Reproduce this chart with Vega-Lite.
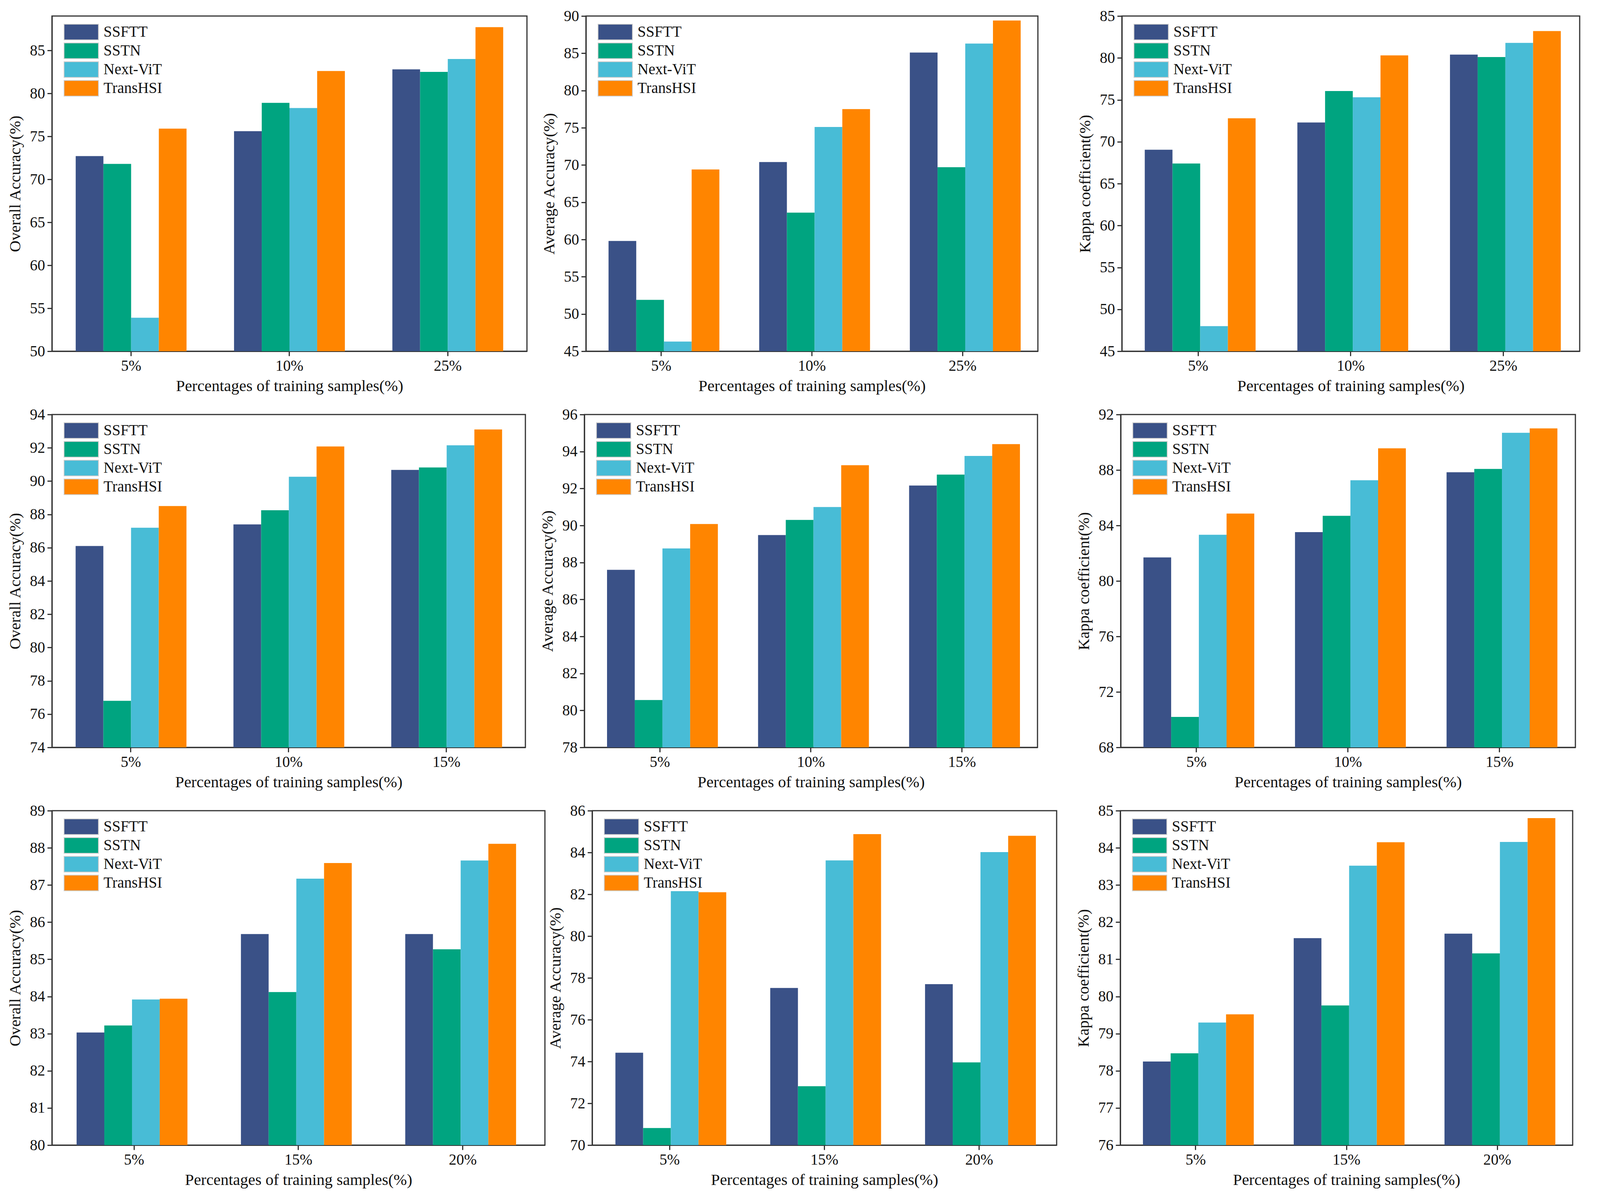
{
  "$schema": "https://vega.github.io/schema/vega-lite/v6.json",
  "background": "white",
  "padding": {"left": 16, "top": 20, "right": 5, "bottom": 5},
  "config": {
    "font": "Liberation Serif",
    "view": {"stroke": "#333333", "strokeWidth": 3},
    "axis": {
      "labelFont": "Liberation Serif", "labelFontSize": 39, "labelColor": "#111111",
      "titleFont": "Liberation Serif", "titleFontSize": 41, "titleFontWeight": "normal", "titleColor": "#111111",
      "domainColor": "#333333", "domainWidth": 3, "tickColor": "#333333", "tickWidth": 3, "tickSize": 12,
      "grid": false, "labelPadding": 6
    },
    "axisX": {"titlePadding": 12, "labelAngle": 0},
    "axisY": {"titlePadding": 16},
    "legend": {
      "orient": "none", "legendX": 30, "legendY": 19, "title": null,
      "labelFont": "Liberation Serif", "labelFontSize": 39, "labelColor": "#111111", "labelOffset": 58,
      "symbolType": "M-1,-0.95H3.19V0.95H-1Z", "symbolSize": 1764, "symbolStrokeColor": "#cccccc", "symbolStrokeWidth": 2,
      "symbolOpacity": 1, "rowPadding": 0
    }
  },
  "datasets": {
    "d": [
      {"p": "p1", "x": "5%", "m": "SSFTT", "v": 72.7}, {"p": "p1", "x": "5%", "m": "SSTN", "v": 71.8}, {"p": "p1", "x": "5%", "m": "Next-ViT", "v": 53.9}, {"p": "p1", "x": "5%", "m": "TransHSI", "v": 75.9},
      {"p": "p1", "x": "10%", "m": "SSFTT", "v": 75.6}, {"p": "p1", "x": "10%", "m": "SSTN", "v": 78.9}, {"p": "p1", "x": "10%", "m": "Next-ViT", "v": 78.3}, {"p": "p1", "x": "10%", "m": "TransHSI", "v": 82.6},
      {"p": "p1", "x": "25%", "m": "SSFTT", "v": 82.8}, {"p": "p1", "x": "25%", "m": "SSTN", "v": 82.5}, {"p": "p1", "x": "25%", "m": "Next-ViT", "v": 84.0}, {"p": "p1", "x": "25%", "m": "TransHSI", "v": 87.7},
      {"p": "p2", "x": "5%", "m": "SSFTT", "v": 59.8}, {"p": "p2", "x": "5%", "m": "SSTN", "v": 51.9}, {"p": "p2", "x": "5%", "m": "Next-ViT", "v": 46.3}, {"p": "p2", "x": "5%", "m": "TransHSI", "v": 69.4},
      {"p": "p2", "x": "10%", "m": "SSFTT", "v": 70.4}, {"p": "p2", "x": "10%", "m": "SSTN", "v": 63.6}, {"p": "p2", "x": "10%", "m": "Next-ViT", "v": 75.1}, {"p": "p2", "x": "10%", "m": "TransHSI", "v": 77.5},
      {"p": "p2", "x": "25%", "m": "SSFTT", "v": 85.1}, {"p": "p2", "x": "25%", "m": "SSTN", "v": 69.7}, {"p": "p2", "x": "25%", "m": "Next-ViT", "v": 86.3}, {"p": "p2", "x": "25%", "m": "TransHSI", "v": 89.4},
      {"p": "p3", "x": "5%", "m": "SSFTT", "v": 69.05}, {"p": "p3", "x": "5%", "m": "SSTN", "v": 67.4}, {"p": "p3", "x": "5%", "m": "Next-ViT", "v": 48.0}, {"p": "p3", "x": "5%", "m": "TransHSI", "v": 72.8},
      {"p": "p3", "x": "10%", "m": "SSFTT", "v": 72.3}, {"p": "p3", "x": "10%", "m": "SSTN", "v": 76.05}, {"p": "p3", "x": "10%", "m": "Next-ViT", "v": 75.3}, {"p": "p3", "x": "10%", "m": "TransHSI", "v": 80.3},
      {"p": "p3", "x": "25%", "m": "SSFTT", "v": 80.4}, {"p": "p3", "x": "25%", "m": "SSTN", "v": 80.1}, {"p": "p3", "x": "25%", "m": "Next-ViT", "v": 81.8}, {"p": "p3", "x": "25%", "m": "TransHSI", "v": 83.2},
      {"p": "p4", "x": "5%", "m": "SSFTT", "v": 86.1}, {"p": "p4", "x": "5%", "m": "SSTN", "v": 76.8}, {"p": "p4", "x": "5%", "m": "Next-ViT", "v": 87.2}, {"p": "p4", "x": "5%", "m": "TransHSI", "v": 88.5},
      {"p": "p4", "x": "10%", "m": "SSFTT", "v": 87.4}, {"p": "p4", "x": "10%", "m": "SSTN", "v": 88.25}, {"p": "p4", "x": "10%", "m": "Next-ViT", "v": 90.26}, {"p": "p4", "x": "10%", "m": "TransHSI", "v": 92.08},
      {"p": "p4", "x": "15%", "m": "SSFTT", "v": 90.67}, {"p": "p4", "x": "15%", "m": "SSTN", "v": 90.82}, {"p": "p4", "x": "15%", "m": "Next-ViT", "v": 92.15}, {"p": "p4", "x": "15%", "m": "TransHSI", "v": 93.1},
      {"p": "p5", "x": "5%", "m": "SSFTT", "v": 87.6}, {"p": "p5", "x": "5%", "m": "SSTN", "v": 80.56}, {"p": "p5", "x": "5%", "m": "Next-ViT", "v": 88.76}, {"p": "p5", "x": "5%", "m": "TransHSI", "v": 90.08},
      {"p": "p5", "x": "10%", "m": "SSFTT", "v": 89.48}, {"p": "p5", "x": "10%", "m": "SSTN", "v": 90.3}, {"p": "p5", "x": "10%", "m": "Next-ViT", "v": 91.0}, {"p": "p5", "x": "10%", "m": "TransHSI", "v": 93.26},
      {"p": "p5", "x": "15%", "m": "SSFTT", "v": 92.16}, {"p": "p5", "x": "15%", "m": "SSTN", "v": 92.75}, {"p": "p5", "x": "15%", "m": "Next-ViT", "v": 93.76}, {"p": "p5", "x": "15%", "m": "TransHSI", "v": 94.4},
      {"p": "p6", "x": "5%", "m": "SSFTT", "v": 81.7}, {"p": "p6", "x": "5%", "m": "SSTN", "v": 70.2}, {"p": "p6", "x": "5%", "m": "Next-ViT", "v": 83.33}, {"p": "p6", "x": "5%", "m": "TransHSI", "v": 84.86},
      {"p": "p6", "x": "10%", "m": "SSFTT", "v": 83.52}, {"p": "p6", "x": "10%", "m": "SSTN", "v": 84.7}, {"p": "p6", "x": "10%", "m": "Next-ViT", "v": 87.26}, {"p": "p6", "x": "10%", "m": "TransHSI", "v": 89.56},
      {"p": "p6", "x": "15%", "m": "SSFTT", "v": 87.84}, {"p": "p6", "x": "15%", "m": "SSTN", "v": 88.08}, {"p": "p6", "x": "15%", "m": "Next-ViT", "v": 90.68}, {"p": "p6", "x": "15%", "m": "TransHSI", "v": 91.0},
      {"p": "p7", "x": "5%", "m": "SSFTT", "v": 83.03}, {"p": "p7", "x": "5%", "m": "SSTN", "v": 83.22}, {"p": "p7", "x": "5%", "m": "Next-ViT", "v": 83.92}, {"p": "p7", "x": "5%", "m": "TransHSI", "v": 83.94},
      {"p": "p7", "x": "15%", "m": "SSFTT", "v": 85.68}, {"p": "p7", "x": "15%", "m": "SSTN", "v": 84.12}, {"p": "p7", "x": "15%", "m": "Next-ViT", "v": 87.17}, {"p": "p7", "x": "15%", "m": "TransHSI", "v": 87.59},
      {"p": "p7", "x": "20%", "m": "SSFTT", "v": 85.68}, {"p": "p7", "x": "20%", "m": "SSTN", "v": 85.27}, {"p": "p7", "x": "20%", "m": "Next-ViT", "v": 87.66}, {"p": "p7", "x": "20%", "m": "TransHSI", "v": 88.11},
      {"p": "p8", "x": "5%", "m": "SSFTT", "v": 74.42}, {"p": "p8", "x": "5%", "m": "SSTN", "v": 70.82}, {"p": "p8", "x": "5%", "m": "Next-ViT", "v": 82.15}, {"p": "p8", "x": "5%", "m": "TransHSI", "v": 82.1},
      {"p": "p8", "x": "15%", "m": "SSFTT", "v": 77.52}, {"p": "p8", "x": "15%", "m": "SSTN", "v": 72.82}, {"p": "p8", "x": "15%", "m": "Next-ViT", "v": 83.62}, {"p": "p8", "x": "15%", "m": "TransHSI", "v": 84.88},
      {"p": "p8", "x": "20%", "m": "SSFTT", "v": 77.7}, {"p": "p8", "x": "20%", "m": "SSTN", "v": 73.96}, {"p": "p8", "x": "20%", "m": "Next-ViT", "v": 84.02}, {"p": "p8", "x": "20%", "m": "TransHSI", "v": 84.8},
      {"p": "p9", "x": "5%", "m": "SSFTT", "v": 78.25}, {"p": "p9", "x": "5%", "m": "SSTN", "v": 78.47}, {"p": "p9", "x": "5%", "m": "Next-ViT", "v": 79.3}, {"p": "p9", "x": "5%", "m": "TransHSI", "v": 79.52},
      {"p": "p9", "x": "15%", "m": "SSFTT", "v": 81.57}, {"p": "p9", "x": "15%", "m": "SSTN", "v": 79.76}, {"p": "p9", "x": "15%", "m": "Next-ViT", "v": 83.52}, {"p": "p9", "x": "15%", "m": "TransHSI", "v": 84.15},
      {"p": "p9", "x": "20%", "m": "SSFTT", "v": 81.69}, {"p": "p9", "x": "20%", "m": "SSTN", "v": 81.16}, {"p": "p9", "x": "20%", "m": "Next-ViT", "v": 84.16}, {"p": "p9", "x": "20%", "m": "TransHSI", "v": 84.8}
    ]
  },
  "data": {"name": "d"},
  "resolve": {"legend": {"color": "independent"}},
  "spacing": 30,
  "vconcat": [
    {
      "resolve": {"legend": {"color": "independent"}},
      "spacing": 32,
      "hconcat": [
        {
          "width": 1216, "height": 858,
          "transform": [{"filter": "datum.p == 'p1'"}],
          "mark": {"type": "bar", "clip": true},
          "encoding": {
            "x": {"field": "x", "type": "nominal", "sort": ["5%", "10%", "25%"], "scale": {"paddingInner": 0.3, "paddingOuter": 0.15}, "axis": {"title": "Percentages of training samples(%)"}},
            "xOffset": {"field": "m", "type": "nominal", "sort": ["SSFTT", "SSTN", "Next-ViT", "TransHSI"], "scale": {"paddingInner": 0, "paddingOuter": 0}},
            "y": {"field": "v", "type": "quantitative", "scale": {"domain": [50, 89], "zero": false, "nice": false}, "axis": {"title": "Overall Accuracy(%)", "values": [50, 55, 60, 65, 70, 75, 80, 85]}},
            "color": {"field": "m", "type": "nominal", "sort": ["SSFTT", "SSTN", "Next-ViT", "TransHSI"], "scale": {"domain": ["SSFTT", "SSTN", "Next-ViT", "TransHSI"], "range": ["#3a5187", "#00a480", "#48bcd6", "#ff8500"]}}
          }
        },
        {
          "resolve": {"legend": {"color": "independent"}},
          "spacing": 96,
          "hconcat": [
            {
              "width": 1157, "height": 858,
              "transform": [{"filter": "datum.p == 'p2'"}],
              "mark": {"type": "bar", "clip": true},
              "encoding": {
                "x": {"field": "x", "type": "nominal", "sort": ["5%", "10%", "25%"], "scale": {"paddingInner": 0.3, "paddingOuter": 0.15}, "axis": {"title": "Percentages of training samples(%)"}},
                "xOffset": {"field": "m", "type": "nominal", "sort": ["SSFTT", "SSTN", "Next-ViT", "TransHSI"], "scale": {"paddingInner": 0, "paddingOuter": 0}},
                "y": {"field": "v", "type": "quantitative", "scale": {"domain": [45, 90], "zero": false, "nice": false}, "axis": {"title": "Average Accuracy(%)", "values": [45, 50, 55, 60, 65, 70, 75, 80, 85, 90]}},
                "color": {"field": "m", "type": "nominal", "sort": ["SSFTT", "SSTN", "Next-ViT", "TransHSI"], "scale": {"domain": ["SSFTT", "SSTN", "Next-ViT", "TransHSI"], "range": ["#3a5187", "#00a480", "#48bcd6", "#ff8500"]}}
              }
            },
            {
              "width": 1172, "height": 858,
              "transform": [{"filter": "datum.p == 'p3'"}],
              "mark": {"type": "bar", "clip": true},
              "encoding": {
                "x": {"field": "x", "type": "nominal", "sort": ["5%", "10%", "25%"], "scale": {"paddingInner": 0.3, "paddingOuter": 0.15}, "axis": {"title": "Percentages of training samples(%)"}},
                "xOffset": {"field": "m", "type": "nominal", "sort": ["SSFTT", "SSTN", "Next-ViT", "TransHSI"], "scale": {"paddingInner": 0, "paddingOuter": 0}},
                "y": {"field": "v", "type": "quantitative", "scale": {"domain": [45, 85], "zero": false, "nice": false}, "axis": {"title": "Kappa coefficient(%)", "values": [45, 50, 55, 60, 65, 70, 75, 80, 85]}},
                "color": {"field": "m", "type": "nominal", "sort": ["SSFTT", "SSTN", "Next-ViT", "TransHSI"], "scale": {"domain": ["SSFTT", "SSTN", "Next-ViT", "TransHSI"], "range": ["#3a5187", "#00a480", "#48bcd6", "#ff8500"]}}
              }
            }
          ]
        }
      ]
    },
    {
      "resolve": {"legend": {"color": "independent"}},
      "spacing": 32,
      "hconcat": [
        {
          "width": 1212, "height": 852,
          "transform": [{"filter": "datum.p == 'p4'"}],
          "mark": {"type": "bar", "clip": true},
          "encoding": {
            "x": {"field": "x", "type": "nominal", "sort": ["5%", "10%", "15%"], "scale": {"paddingInner": 0.3, "paddingOuter": 0.15}, "axis": {"title": "Percentages of training samples(%)"}},
            "xOffset": {"field": "m", "type": "nominal", "sort": ["SSFTT", "SSTN", "Next-ViT", "TransHSI"], "scale": {"paddingInner": 0, "paddingOuter": 0}},
            "y": {"field": "v", "type": "quantitative", "scale": {"domain": [74, 94], "zero": false, "nice": false}, "axis": {"title": "Overall Accuracy(%)", "values": [74, 76, 78, 80, 82, 84, 86, 88, 90, 92, 94]}},
            "color": {"field": "m", "type": "nominal", "sort": ["SSFTT", "SSTN", "Next-ViT", "TransHSI"], "scale": {"domain": ["SSFTT", "SSTN", "Next-ViT", "TransHSI"], "range": ["#3a5187", "#00a480", "#48bcd6", "#ff8500"]}}
          }
        },
        {
          "resolve": {"legend": {"color": "independent"}},
          "spacing": 94,
          "hconcat": [
            {
              "width": 1160, "height": 852,
              "transform": [{"filter": "datum.p == 'p5'"}],
              "mark": {"type": "bar", "clip": true},
              "encoding": {
                "x": {"field": "x", "type": "nominal", "sort": ["5%", "10%", "15%"], "scale": {"paddingInner": 0.3, "paddingOuter": 0.15}, "axis": {"title": "Percentages of training samples(%)"}},
                "xOffset": {"field": "m", "type": "nominal", "sort": ["SSFTT", "SSTN", "Next-ViT", "TransHSI"], "scale": {"paddingInner": 0, "paddingOuter": 0}},
                "y": {"field": "v", "type": "quantitative", "scale": {"domain": [78, 96], "zero": false, "nice": false}, "axis": {"title": "Average Accuracy(%)", "values": [78, 80, 82, 84, 86, 88, 90, 92, 94, 96]}},
                "color": {"field": "m", "type": "nominal", "sort": ["SSFTT", "SSTN", "Next-ViT", "TransHSI"], "scale": {"domain": ["SSFTT", "SSTN", "Next-ViT", "TransHSI"], "range": ["#3a5187", "#00a480", "#48bcd6", "#ff8500"]}}
              }
            },
            {
              "width": 1164, "height": 852,
              "transform": [{"filter": "datum.p == 'p6'"}],
              "mark": {"type": "bar", "clip": true},
              "encoding": {
                "x": {"field": "x", "type": "nominal", "sort": ["5%", "10%", "15%"], "scale": {"paddingInner": 0.3, "paddingOuter": 0.15}, "axis": {"title": "Percentages of training samples(%)"}},
                "xOffset": {"field": "m", "type": "nominal", "sort": ["SSFTT", "SSTN", "Next-ViT", "TransHSI"], "scale": {"paddingInner": 0, "paddingOuter": 0}},
                "y": {"field": "v", "type": "quantitative", "scale": {"domain": [68, 92], "zero": false, "nice": false}, "axis": {"title": "Kappa coefficient(%)", "values": [68, 72, 76, 80, 84, 88, 92]}},
                "color": {"field": "m", "type": "nominal", "sort": ["SSFTT", "SSTN", "Next-ViT", "TransHSI"], "scale": {"domain": ["SSFTT", "SSTN", "Next-ViT", "TransHSI"], "range": ["#3a5187", "#00a480", "#48bcd6", "#ff8500"]}}
              }
            }
          ]
        }
      ]
    },
    {
      "resolve": {"legend": {"color": "independent"}},
      "spacing": 2,
      "hconcat": [
        {
          "width": 1262, "height": 856,
          "transform": [{"filter": "datum.p == 'p7'"}],
          "mark": {"type": "bar", "clip": true},
          "encoding": {
            "x": {"field": "x", "type": "nominal", "sort": ["5%", "15%", "20%"], "scale": {"paddingInner": 0.3, "paddingOuter": 0.15}, "axis": {"title": "Percentages of training samples(%)"}},
            "xOffset": {"field": "m", "type": "nominal", "sort": ["SSFTT", "SSTN", "Next-ViT", "TransHSI"], "scale": {"paddingInner": 0, "paddingOuter": 0}},
            "y": {"field": "v", "type": "quantitative", "scale": {"domain": [80, 89], "zero": false, "nice": false}, "axis": {"title": "Overall Accuracy(%)", "values": [80, 81, 82, 83, 84, 85, 86, 87, 88, 89]}},
            "color": {"field": "m", "type": "nominal", "sort": ["SSFTT", "SSTN", "Next-ViT", "TransHSI"], "scale": {"domain": ["SSFTT", "SSTN", "Next-ViT", "TransHSI"], "range": ["#3a5187", "#00a480", "#48bcd6", "#ff8500"]}}
          }
        },
        {
          "resolve": {"legend": {"color": "independent"}},
          "spacing": 44,
          "hconcat": [
            {
              "width": 1189, "height": 856,
              "transform": [{"filter": "datum.p == 'p8'"}],
              "mark": {"type": "bar", "clip": true},
              "encoding": {
                "x": {"field": "x", "type": "nominal", "sort": ["5%", "15%", "20%"], "scale": {"paddingInner": 0.3, "paddingOuter": 0.15}, "axis": {"title": "Percentages of training samples(%)"}},
                "xOffset": {"field": "m", "type": "nominal", "sort": ["SSFTT", "SSTN", "Next-ViT", "TransHSI"], "scale": {"paddingInner": 0, "paddingOuter": 0}},
                "y": {"field": "v", "type": "quantitative", "scale": {"domain": [70, 86], "zero": false, "nice": false}, "axis": {"title": "Average Accuracy(%)", "values": [70, 72, 74, 76, 78, 80, 82, 84, 86]}},
                "color": {"field": "m", "type": "nominal", "sort": ["SSFTT", "SSTN", "Next-ViT", "TransHSI"], "scale": {"domain": ["SSFTT", "SSTN", "Next-ViT", "TransHSI"], "range": ["#3a5187", "#00a480", "#48bcd6", "#ff8500"]}}
              }
            },
            {
              "width": 1158, "height": 856,
              "transform": [{"filter": "datum.p == 'p9'"}],
              "mark": {"type": "bar", "clip": true},
              "encoding": {
                "x": {"field": "x", "type": "nominal", "sort": ["5%", "15%", "20%"], "scale": {"paddingInner": 0.3, "paddingOuter": 0.15}, "axis": {"title": "Percentages of training samples(%)"}},
                "xOffset": {"field": "m", "type": "nominal", "sort": ["SSFTT", "SSTN", "Next-ViT", "TransHSI"], "scale": {"paddingInner": 0, "paddingOuter": 0}},
                "y": {"field": "v", "type": "quantitative", "scale": {"domain": [76, 85], "zero": false, "nice": false}, "axis": {"title": "Kappa coefficient(%)", "values": [76, 77, 78, 79, 80, 81, 82, 83, 84, 85]}},
                "color": {"field": "m", "type": "nominal", "sort": ["SSFTT", "SSTN", "Next-ViT", "TransHSI"], "scale": {"domain": ["SSFTT", "SSTN", "Next-ViT", "TransHSI"], "range": ["#3a5187", "#00a480", "#48bcd6", "#ff8500"]}}
              }
            }
          ]
        }
      ]
    }
  ]
}
